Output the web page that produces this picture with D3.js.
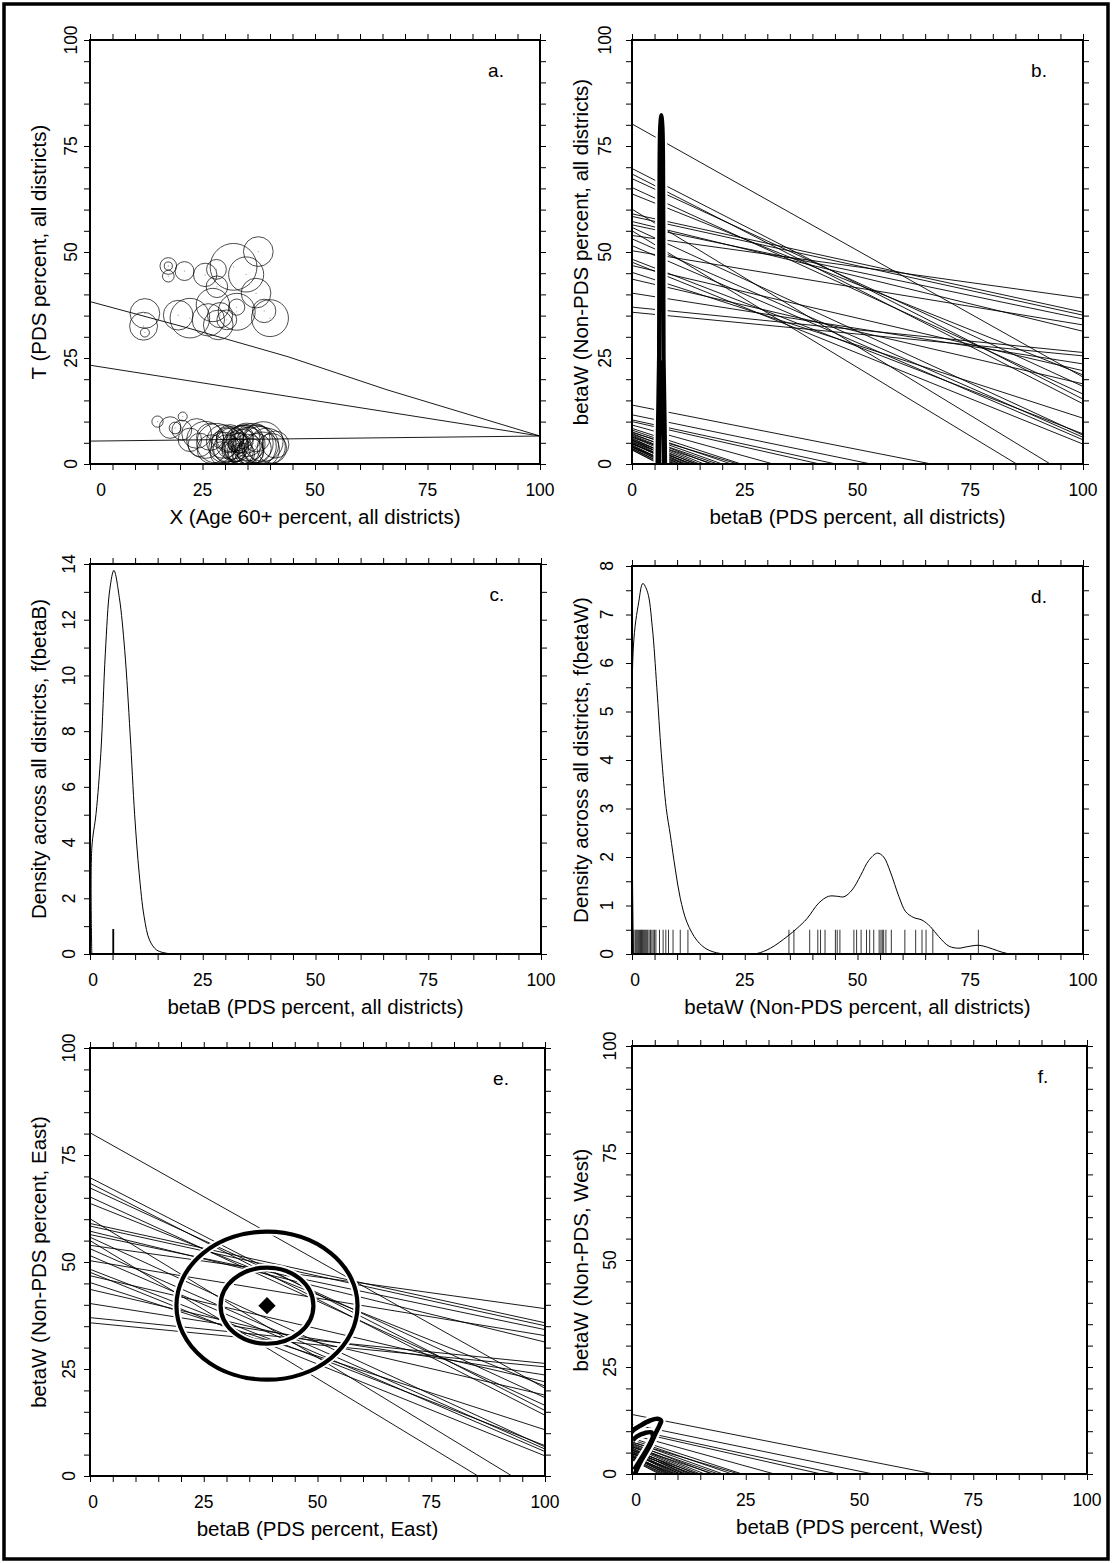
<!DOCTYPE html>
<html>
<head>
<meta charset="utf-8">
<script src="https://cdn.jsdelivr.net/npm/d3@7"></script>
<style>
  body { margin: 0; background: #fff; }
  text { font-family: "Liberation Sans", Arial, sans-serif; fill: #000; }
</style>
</head>
<body>
<svg id="fig" width="1112" height="1563"></svg>
<script>
// ---- tick labels ----
const pctLabels = [0, 25, 50, 75, 100];
const densBLabels = [0, 2, 4, 6, 8, 10, 12, 14];
const densWLabels = [0, 1, 2, 3, 4, 5, 6, 7, 8];

// ---- panel a: circles (X, T, radius in X units) ----
const circX = [37.4, 31.9, 34.7, 17.4, 17.4, 17.4, 21.0, 25.6, 28.1, 28.2, 36.9, 38.7, 40.0, 27.3, 32.6,
  22.2, 19.6, 12.2, 11.9, 12.2, 26.3, 28.9, 28.5, 30.4, 32.6,
  15.0, 20.6, 17.8, 18.9, 20.4, 23.7, 22.2, 25.6, 28.1, 29.6, 31.1, 32.6, 33.0, 34.1, 35.2, 36.3,
  37.8, 39.3, 40.4, 31.9, 32.6, 30.4, 29.3, 33.3, 31.1, 35.6, 37.0, 38.5, 34.4, 32.2, 33.0, 26.7,
  24.4, 28.9, 34.8, 37.0, 33.7,
  31.5, 33.8, 35.0, 30.8, 36.8, 32.9, 34.6, 38.2, 29.8, 33.4, 41.2, 27.0];
const circT = [50.1, 46.5, 44.7, 46.7, 46.7, 44.3, 45.5, 44.6, 45.9, 41.8, 40.3, 36.1, 34.4, 37.5, 35.9,
  34.4, 35.1, 35.5, 32.5, 31.0, 34.0, 35.1, 32.8, 34.0, 37.0,
  10.0, 11.2, 8.6, 8.5, 8.0, 7.2, 5.7, 5.7, 4.9, 5.3, 4.5, 4.1, 4.9, 4.5, 4.7, 4.9,
  4.5, 4.1, 3.7, 3.3, 2.5, 3.7, 2.5, 5.7, 6.1, 2.9, 3.7, 5.3, 2.5, 4.5, 3.7, 6.4,
  4.5, 5.7, 5.7, 6.1, 6.4,
  4.8, 3.9, 3.2, 5.6, 4.2, 5.2, 5.9, 3.4, 3.9, 2.9, 4.6, 3.5];
const circR = [3.3, 5.2, 3.9, 1.85, 0.9, 1.3, 2.1, 2.6, 2.2, 2.4, 3.3, 2.6, 4.1, 3.7, 4.1,
  4.4, 3.3, 3.3, 3.1, 1.0, 3.6, 2.8, 3.3, 2.2, 1.8,
  1.25, 1.0, 2.4, 1.3, 2.2, 3.3, 2.6, 4.1, 4.4, 3.7, 4.1, 3.3, 2.2, 4.4, 3.7, 4.4,
  4.1, 4.1, 3.3, 2.6, 1.85, 3.0, 2.6, 3.0, 3.0, 3.0, 3.3, 4.4, 2.2, 1.5, 1.1, 3.0,
  2.6, 1.85, 3.7, 3.0, 2.6,
  3.5, 4.0, 3.6, 2.8, 4.6, 2.0, 3.2, 3.9, 3.4, 2.9, 3.0, 3.2];

// ---- panel a: fitted lines ----
const aLineUpper = [[0, 38.3], [22, 32.0], [44, 25.3], [66, 17.5], [100, 6.6]];
const aLineMiddle = [[0, 23.3], [100, 6.6]];
const aLineLower = [[0, 5.4], [100, 6.6]];

// ---- tomography lines, East districts: betaW at betaB = 0 and at betaB = 100 ----
const eastW0 = [80.2, 69.7, 68.4, 67.3, 65.2, 63.7, 60.1, 59.0, 58.4, 56.4, 55.0, 53.9, 53.1,
  51.5, 50.3, 48.3, 47.6, 46.8, 45.2, 43.6, 40.3, 37.0, 35.8, 57.2, 55.8];
const eastW100 = [20.5, 15.3, 14.2, 18.3, 16.5, 21.0, -4.7, 35.8, 35.1, 34.2, -9.5, 39.1, 6.3,
  5.7, 32.8, 7.1, 4.7, 22.0, 10.8, 18.9, 23.6, 26.3, 25.5, 31.3, 6.8];

// ---- tomography lines, West districts: betaW at betaB = 0 and betaB where betaW = 0 ----
const westW0 = [13.9, 11.6, 10.4, 10.0, 9.2, 8.4, 7.6, 7.2, 6.8, 6.4, 6.1, 5.7, 5.3, 4.9,
  4.5, 4.1, 3.7, 7.0, 5.9, 5.0, 8.0, 4.3, 3.9, 6.6,
  5.5, 4.7, 4.2, 3.6, 3.3, 6.3, 5.6, 4.8, 7.4, 3.4, 4.0, 5.1];
const westB0 = [66.4, 53.0, 45.2, 41.6, 31.3, 24.2, 20.0, 17.5, 16.0, 14.0, 12.5, 11.5, 10.5, 9.5,
  8.5, 7.6, 6.8, 19.0, 13.0, 10.0, 22.0, 9.0, 8.0, 15.0,
  12.0, 10.8, 8.2, 7.2, 6.0, 18.0, 14.5, 11.5, 23.5, 6.4, 9.5, 13.5];

// ---- contours ----
const contourAllOuter = [[5.65, -3], [5.75, 8], [6.0, 25], [6.05, 50], [6.12, 72], [6.25, 79.5],
  [6.5, 82.3], [6.75, 79.5], [6.88, 72], [6.95, 50], [7.0, 25], [7.25, 8], [7.35, -3]];
const contourAllInner = [[5.95, -3], [6.05, 8], [6.5, 24], [6.95, 8], [7.05, -3]];
const contourWestOuter = [[0.3, -0.8], [1.8, 2.7], [3.7, 6.2], [5.1, 9.3], [6.1, 11.5], [6.4, 12.4],
  [5.6, 12.9], [4.0, 12.5], [1.8, 11.3], [0.3, 10.3], [-0.3, 9.5]];
const contourWestInner = [[0.5, 1.0], [2.2, 3.9], [3.7, 6.6], [4.6, 8.8], [4.3, 9.7], [2.9, 9.6],
  [1.1, 8.8], [0.2, 7.9]];
const eastCenter = [38.9, 39.8];
const eastEllipseOuter = [19.9, 17.3];
const eastEllipseInner = [10.2, 8.9];

// ---- density of betaB ----
const densBx = [0.4, 0.4, 1.35, 2.4, 3.4, 4.4, 5.3, 6.5, 7.7, 8.9, 9.9, 10.9, 12.0, 13.2, 14.8, 17.2, 18.5, 100];
const densBy = [0, 3.8, 5.05, 7.2, 10.8, 13.1, 13.77, 12.8, 10.9, 7.9, 5.0, 2.9, 1.34, 0.5, 0.14, 0.02, 0, 0];
const rugB = [5.1, 5.15, 5.2, 5.25];

// ---- density of betaW ----
const densWx = [0.3, 0.3, 1.5, 2.4, 3.45, 4.5, 5.5, 6.5, 7.6, 8.5, 9.6, 10.7, 12.2, 14.4, 16.6, 19.6, 25,
  27.7, 30.7, 34.4, 36.6, 38.8, 41.4, 43.6, 45.5, 47, 48.8, 50.7, 52.5, 54.4, 55.8, 57.3, 59.2, 60.7,
  62.5, 64.3, 66.2, 68, 70.3, 72.5, 74.3, 76.9, 78.8, 81, 83.2, 86, 100];
const densWy = [0, 6.33, 7.26, 7.64, 7.46, 6.74, 5.5, 4.13, 3.0, 2.45, 1.75, 1.15, 0.65, 0.28, 0.1, 0.01, 0,
  0.01, 0.12, 0.36, 0.53, 0.73, 1.05, 1.19, 1.19, 1.18, 1.32, 1.62, 1.93, 2.08, 2.0, 1.69, 1.18, 0.87,
  0.75, 0.70, 0.56, 0.36, 0.16, 0.12, 0.15, 0.18, 0.14, 0.07, 0.01, 0, 0];
const rugW = [0.4, 0.7, 0.9, 1.1, 1.3, 1.5, 1.7, 1.9, 2.1, 2.3, 2.5, 2.7, 2.9, 3.1, 3.3, 3.5, 3.8, 4.1,
  4.4, 4.7, 5.0, 5.3, 6.1, 6.9, 7.5, 8.1, 9.1, 10.7, 12.4, 34.8, 35.9, 39.4, 41.2, 41.8, 42.8, 45.1,
  45.5, 46.1, 49.2, 49.8, 50.8, 52.0, 52.7, 53.6, 54.8, 55.2, 55.5, 55.8, 56.3, 57.5, 60.5, 62.9,
  64.3, 65.2, 66.7, 76.8];

// ---- layout ----
const svg = d3.select("#fig");
const defs = svg.append("defs");
svg.append("rect").attr("width", 1112).attr("height", 1563).attr("fill", "#fff");

const frames = {
  a: { x0: 90, x1: 540, y0: 40, y1: 464, yl: 19 },
  b: { x0: 632, x1: 1083, y0: 40, y1: 464, yl: 27 },
  c: { x0: 90, x1: 541, y0: 564, y1: 954, yl: 21 },
  d: { x0: 632, x1: 1083, y0: 566, y1: 954, yl: 25 },
  e: { x0: 90, x1: 545, y0: 1048, y1: 1476, yl: 21 },
  f: { x0: 632, x1: 1087, y0: 1046, y1: 1474, yl: 22 }
};

function makePanel(key, cfg) {
  const p = frames[key];
  const x = d3.scaleLinear().domain(cfg.xDomain).range([p.x0, p.x1]);
  const y = d3.scaleLinear().domain(cfg.yDomain).range([p.y1, p.y0]);

  defs.append("clipPath").attr("id", "clip-" + key)
    .append("rect")
    .attr("x", p.x0).attr("y", p.y0)
    .attr("width", p.x1 - p.x0).attr("height", p.y1 - p.y0);

  const plot = svg.append("g").attr("clip-path", `url(#clip-${key})`);
  const g = svg.append("g");

  // ticks on all four sides, pointing out
  const tick = (axis, t) => g.append("g").attr("transform", t)
    .call(axis.tickSize(6).tickFormat(""))
    .call(s => s.select(".domain").remove())
    .selectAll("line").attr("stroke-width", 1);
  tick(d3.axisBottom(x).tickValues(cfg.xTicks), `translate(0,${p.y1})`);
  tick(d3.axisTop(x).tickValues(cfg.xTicks), `translate(0,${p.y0})`);
  tick(d3.axisLeft(y).tickValues(cfg.yTicks), `translate(${p.x0},0)`);
  tick(d3.axisRight(y).tickValues(cfg.yTicks), `translate(${p.x1},0)`);

  g.append("rect")
    .attr("x", p.x0).attr("y", p.y0)
    .attr("width", p.x1 - p.x0).attr("height", p.y1 - p.y0)
    .attr("fill", "none").attr("stroke", "#000").attr("stroke-width", 2);

  // x tick labels
  g.selectAll(".xl").data(cfg.xLabels).enter().append("text")
    .attr("x", (d, i) => x(d) + (i === 0 ? cfg.zeroShift : 0))
    .attr("y", p.y1 + 26)
    .attr("dy", "0.35em")
    .attr("text-anchor", "middle")
    .style("font-size", "17.5px")
    .text(d => d);

  // y tick labels, rotated like R's las = 0
  g.selectAll(".yl").data(cfg.yLabels).enter().append("text")
    .attr("transform", d => `translate(${p.x0 - p.yl},${y(d)}) rotate(-90)`)
    .attr("dy", "0.35em")
    .attr("text-anchor", "middle")
    .style("font-size", "17.5px")
    .text(d => d);

  g.append("text")
    .attr("x", (p.x0 + p.x1) / 2).attr("y", p.y1 + 53)
    .attr("dy", "0.35em")
    .attr("text-anchor", "middle")
    .style("font-size", "20.5px")
    .text(cfg.xTitle);

  g.append("text")
    .attr("transform", `translate(${p.x0 - 51},${(p.y0 + p.y1) / 2}) rotate(-90)`)
    .attr("dy", "0.35em")
    .attr("text-anchor", "middle")
    .style("font-size", "20.5px")
    .text(cfg.yTitle);

  g.append("text")
    .attr("x", p.x1 - 44).attr("y", p.y0 + 30)
    .attr("dy", "0.35em")
    .attr("text-anchor", "middle")
    .style("font-size", "19px")
    .text(cfg.tag);

  return { plot, x, y };
}

const pctTicks = d3.range(0, 101, 5);

function drawTomography(pan, w0, w100) {
  pan.plot.selectAll(null).data(w0).enter().append("line")
    .attr("x1", pan.x(0)).attr("y1", d => pan.y(d))
    .attr("x2", pan.x(100)).attr("y2", (d, i) => pan.y(w100[i]))
    .attr("stroke", "#000").attr("stroke-width", 0.9);
}
function drawWest(pan) {
  pan.plot.selectAll(null).data(westW0).enter().append("line")
    .attr("x1", pan.x(0)).attr("y1", d => pan.y(d))
    .attr("x2", (d, i) => pan.x(westB0[i])).attr("y2", pan.y(0))
    .attr("stroke", "#000").attr("stroke-width", 0.9);
}
function contourPath(pan, pts) {
  return d3.line().x(d => pan.x(d[0])).y(d => pan.y(d[1])).curve(d3.curveCatmullRom)(pts);
}
// contour drawn black over a white halo, so the lines under it show a gap
function drawContours(pan, list, halo, width) {
  list.forEach(c => pan.plot.append("path").attr("d", contourPath(pan, c))
    .attr("fill", "none").attr("stroke", "#fff").attr("stroke-width", halo));
  list.forEach(c => pan.plot.append("path").attr("d", contourPath(pan, c))
    .attr("fill", "none").attr("stroke", "#000").attr("stroke-width", width)
    .attr("stroke-linejoin", "round"));
}

// ---- a ----
const pa = makePanel("a", {
  xDomain: [0, 100], yDomain: [0, 100], xTicks: pctTicks, yTicks: pctTicks,
  xLabels: pctLabels, yLabels: pctLabels, zeroShift: 11,
  xTitle: "X (Age 60+ percent, all districts)", yTitle: "T (PDS percent, all districts)", tag: "a."
});
pa.plot.selectAll("circle.bub").data(circX).enter().append("circle")
  .attr("class", "bub")
  .attr("cx", d => pa.x(d))
  .attr("cy", (d, i) => pa.y(circT[i]))
  .attr("r", (d, i) => pa.x(circR[i]) - pa.x(0))
  .attr("fill", "none").attr("stroke", "#000").attr("stroke-width", 0.7);
pa.plot.selectAll("circle.dot").data(circX).enter().append("circle")
  .attr("class", "dot")
  .attr("cx", d => pa.x(d))
  .attr("cy", (d, i) => pa.y(circT[i]))
  .attr("r", 0.6).attr("fill", "#999");
const aLine = d3.line().x(d => pa.x(d[0])).y(d => pa.y(d[1]));
[aLineUpper, aLineMiddle, aLineLower].forEach(l => {
  pa.plot.append("path").attr("d", aLine(l))
    .attr("fill", "none").attr("stroke", "#000").attr("stroke-width", 0.9);
});

// ---- b ----
const pb = makePanel("b", {
  xDomain: [0, 100], yDomain: [0, 100], xTicks: pctTicks, yTicks: pctTicks,
  xLabels: pctLabels, yLabels: pctLabels, zeroShift: 0,
  xTitle: "betaB (PDS percent, all districts)", yTitle: "betaW (Non-PDS percent, all districts)", tag: "b."
});
drawTomography(pb, eastW0, eastW100);
drawWest(pb);
drawContours(pb, [contourAllOuter, contourAllInner], 8.5, 4.2);

// ---- c ----
const pc = makePanel("c", {
  xDomain: [0, 100], yDomain: [0, 14], xTicks: pctTicks, yTicks: d3.range(0, 15, 1),
  xLabels: pctLabels, yLabels: densBLabels, zeroShift: 3,
  xTitle: "betaB (PDS percent, all districts)", yTitle: "Density across all districts, f(betaB)", tag: "c."
});
const cLine = d3.line().x(d => pc.x(d)).y((d, i) => pc.y(densBy[i])).curve(d3.curveCatmullRom);
pc.plot.append("path").attr("d", cLine(densBx))
  .attr("fill", "none").attr("stroke", "#000").attr("stroke-width", 1);
pc.plot.selectAll(null).data(rugB).enter().append("line")
  .attr("x1", d => pc.x(d)).attr("x2", d => pc.x(d))
  .attr("y1", pc.y(0)).attr("y2", pc.y(0) - 25)
  .attr("stroke", "#000").attr("stroke-width", 1);

// ---- d ----
const pd = makePanel("d", {
  xDomain: [0, 100], yDomain: [0, 8], xTicks: pctTicks, yTicks: d3.range(0, 8.01, 0.5),
  xLabels: pctLabels, yLabels: densWLabels, zeroShift: 3,
  xTitle: "betaW (Non-PDS percent, all districts)", yTitle: "Density across all districts, f(betaW)", tag: "d."
});
const dLine = d3.line().x(d => pd.x(d)).y((d, i) => pd.y(densWy[i])).curve(d3.curveCatmullRom);
pd.plot.append("path").attr("d", dLine(densWx))
  .attr("fill", "none").attr("stroke", "#000").attr("stroke-width", 1);
pd.plot.selectAll(null).data(rugW).enter().append("line")
  .attr("x1", d => pd.x(d)).attr("x2", d => pd.x(d))
  .attr("y1", pd.y(0)).attr("y2", pd.y(0.5))
  .attr("stroke", "#000").attr("stroke-width", 0.8);

// ---- e ----
const pe = makePanel("e", {
  xDomain: [0, 100], yDomain: [0, 100], xTicks: pctTicks, yTicks: pctTicks,
  xLabels: pctLabels, yLabels: pctLabels, zeroShift: 3,
  xTitle: "betaB (PDS percent, East)", yTitle: "betaW (Non-PDS percent, East)", tag: "e."
});
drawTomography(pe, eastW0, eastW100);
[["#fff", 8], ["#000", 4.2]].forEach(([col, w]) => {
  [eastEllipseOuter, eastEllipseInner].forEach(r => {
    pe.plot.append("ellipse")
      .attr("cx", pe.x(eastCenter[0])).attr("cy", pe.y(eastCenter[1]))
      .attr("rx", pe.x(r[0]) - pe.x(0)).attr("ry", pe.y(0) - pe.y(r[1]))
      .attr("fill", "none").attr("stroke", col).attr("stroke-width", w);
  });
});
pe.plot.append("path")
  .attr("d", d3.symbol(d3.symbolSquare, 150)())
  .attr("transform", `translate(${pe.x(eastCenter[0])},${pe.y(eastCenter[1])}) rotate(45)`)
  .attr("fill", "#000");

// ---- f ----
const pf = makePanel("f", {
  xDomain: [0, 100], yDomain: [0, 100], xTicks: pctTicks, yTicks: pctTicks,
  xLabels: pctLabels, yLabels: pctLabels, zeroShift: 4,
  xTitle: "betaB (PDS percent, West)", yTitle: "betaW (Non-PDS, West)", tag: "f."
});
drawWest(pf);
drawContours(pf, [contourWestOuter, contourWestInner], 9, 4.6);

// outer frame
svg.append("rect")
  .attr("x", 4).attr("y", 4).attr("width", 1104).attr("height", 1555)
  .attr("fill", "none").attr("stroke", "#000").attr("stroke-width", 3.5);
</script>
</body>
</html>
